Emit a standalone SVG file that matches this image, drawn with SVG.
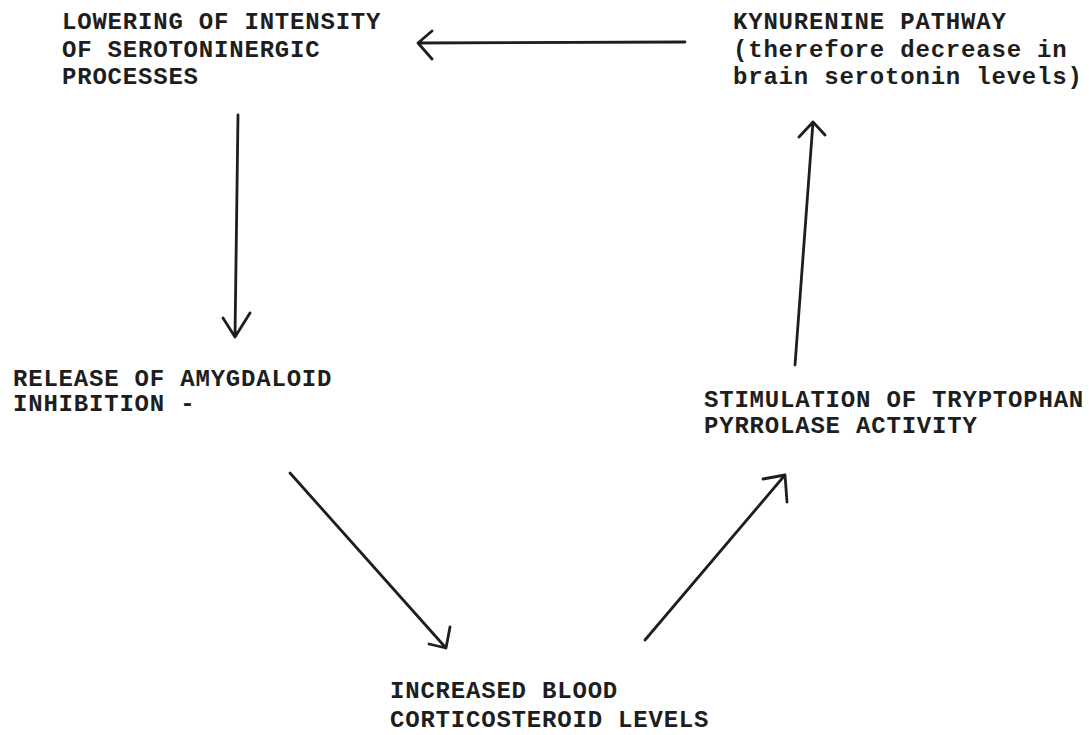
<svg xmlns="http://www.w3.org/2000/svg" width="1089" height="735" viewBox="0 0 1089 735">
<style>
  .t { font-family: "Liberation Mono", "DejaVu Sans Mono", monospace; font-size: 24px; font-weight: bold; fill: #1e1e1e; letter-spacing: 0.8px; }
  .c { fill: none; stroke: #1e1e1e; stroke-width: 2.8; stroke-linecap: round; stroke-linejoin: round; }
</style>
<rect width="1089" height="735" fill="#ffffff"/>
<g id="node-lowering">
  <text class="t" x="62" y="29">LOWERING OF INTENSITY</text>
  <text class="t" x="62" y="57">OF SEROTONINERGIC</text>
  <text class="t" x="62" y="84">PROCESSES</text>
</g>
<g id="node-kynurenine">
  <text class="t" x="733" y="29">KYNURENINE PATHWAY</text>
  <text class="t" x="733" y="57">(therefore decrease in</text>
  <text class="t" x="733" y="84">brain serotonin levels)</text>
</g>
<g id="node-release">
  <text class="t" x="13" y="386">RELEASE OF AMYGDALOID</text>
  <text class="t" x="13" y="411">INHIBITION -</text>
</g>
<g id="node-stimulation">
  <text class="t" x="704" y="407">STIMULATION OF TRYPTOPHAN</text>
  <text class="t" x="704" y="433">PYRROLASE ACTIVITY</text>
</g>
<g id="node-increased">
  <text class="t" x="390" y="698">INCREASED BLOOD</text>
  <text class="t" x="390" y="727">CORTICOSTEROID LEVELS</text>
</g>
<g id="connectors">
  <path class="c" d="M685 42 L418 43 M432 31 L418 43 L432 59"/>
  <path class="c" d="M238 115 L235 337 M223 318 L235 337 L250 313"/>
  <path class="c" d="M290 473 L446 648 M450 627 L446 648 L429 644"/>
  <path class="c" d="M645 640 L785 475 M763 479 L785 475 L787 502"/>
  <path class="c" d="M795 365 L813 122 M799 137 L813 122 L825 135"/>
</g>
</svg>
